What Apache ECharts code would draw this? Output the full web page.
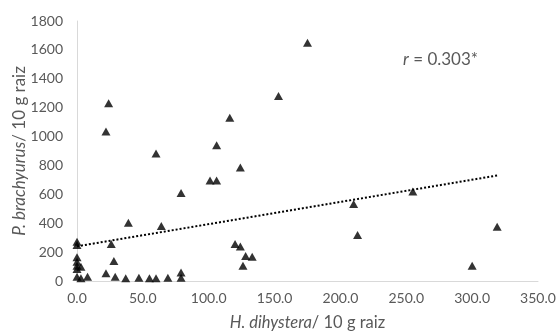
<!DOCTYPE html>
<html>
<head>
<meta charset="utf-8">
<script src="https://cdn.jsdelivr.net/npm/echarts@6/dist/echarts.min.js"></script>
<style>
  html, body { margin: 0; padding: 0; background: #fff; }
  #chart { width: 556px; height: 333px; }
</style>
</head>
<body>
<div id="chart"></div>
<script>
// H. dihystera / 10 g raiz (x) vs P. brachyurus / 10 g raiz (y)
const hDihystera = [
  175, 153, 116, 106, 124, 101, 106, 79, 24, 22,
  60, 39, 64, 0, 0, 0, 0, 0, 0, 3,
  0, 3, 8, 22, 26, 28, 29, 37, 47, 55,
  60, 69, 79, 79, 120, 124, 128, 133, 126, 210,
  213, 255, 319, 300
];
const pBrachyurus = [
  1650, 1280, 1130, 940, 785, 695, 695, 610, 1230, 1035,
  882, 404, 380, 272, 250, 164, 134, 106, 83, 99,
  30, 19, 30, 53, 256, 138, 30, 19, 23, 19,
  19, 23, 58, 23, 256, 238, 173, 168, 106, 533,
  318, 619, 376, 106
];
// linear trend line end points
const trendX = [0, 320];
const trendY = [240, 732];

const xTicks = { min: 0, max: 350, interval: 50 };
const yTicks = { min: 0, max: 1800, interval: 200 };

const FONT = "Lato";
const GREY = "#595959";

const points = hDihystera.map((x, i) => [x, pBrachyurus[i]]);
const trend = trendX.map((x, i) => [x, trendY[i]]);

const chart = echarts.init(document.getElementById("chart"), null, { renderer: "canvas" });
chart.setOption({
  animation: false,
  backgroundColor: "#fff",
  textStyle: { fontFamily: FONT },
  grid: { left: 77, right: 18, top: 21, bottom: 52, outerBoundsMode: "none", containLabel: false },
  xAxis: {
    type: "value",
    min: xTicks.min, max: xTicks.max, interval: xTicks.interval,
    name: "{i|H. dihystera}{n|/ 10 g raiz}",
    nameLocation: "middle",
    nameGap: 33,
    nameTextStyle: {
      rich: {
        i: { fontFamily: FONT, fontStyle: "italic", fontSize: 16.5, color: GREY },
        n: { fontFamily: FONT, fontSize: 16.5, color: GREY }
      }
    },
    axisLine: { show: true, lineStyle: { color: "#d9d9d9", width: 1 } },
    axisTick: { show: false },
    splitLine: { show: false },
    axisLabel: {
      color: GREY, fontFamily: FONT, fontSize: 14, margin: 10,
      formatter: (v) => v.toFixed(1)
    }
  },
  yAxis: {
    type: "value",
    min: yTicks.min, max: yTicks.max, interval: yTicks.interval,
    axisLine: { show: true, lineStyle: { color: "#d9d9d9", width: 1 } },
    axisTick: { show: false },
    splitLine: { show: false },
    axisLabel: {
      color: GREY, fontFamily: FONT, fontSize: 14, margin: 14,
      formatter: (v) => String(v)
    }
  },
  graphic: [
    {
      // y axis title, rotated
      type: "text",
      x: 20,
      y: 151,
      rotation: Math.PI / 2,
      style: {
        text: "{i|P. brachyurus}{n|/ 10 g raiz}",
        align: "center",
        verticalAlign: "middle",
        rich: {
          i: { fontFamily: FONT, fontStyle: "italic", fontSize: 17, fill: GREY },
          n: { fontFamily: FONT, fontSize: 17, fill: GREY }
        }
      }
    },
    {
      type: "text",
      left: 403,
      top: 51,
      style: {
        text: "{i|r} = 0.303*",
        fill: GREY,
        font: "17px " + FONT,
        rich: {
          i: { fontStyle: "italic", fontFamily: FONT, fontSize: 17, fill: GREY }
        }
      }
    }
  ],
  series: [
    {
      type: "line",
      data: trend,
      showSymbol: false,
      symbol: "none",
      lineStyle: { color: "#000", width: 2, type: [2, 2] },
      z: 1
    },
    {
      type: "scatter",
      data: points,
      symbol: "triangle",
      symbolSize: [9, 8],
      itemStyle: { color: "#000" },
      z: 2
    }
  ]
});
</script>
</body>
</html>
